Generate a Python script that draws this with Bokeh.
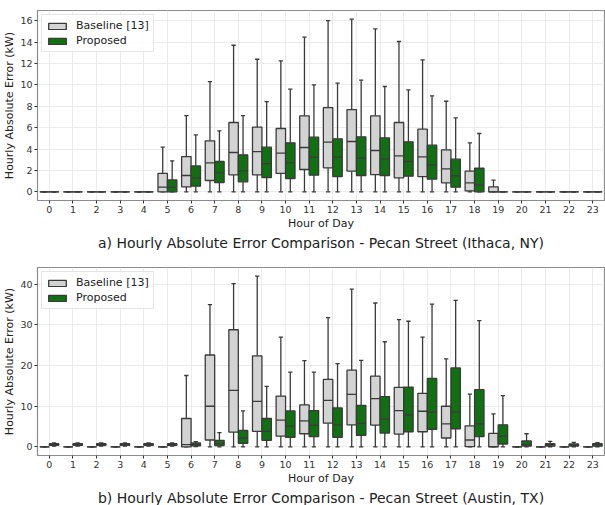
import numpy as np
from bokeh.plotting import figure
from bokeh.layouts import column
from bokeh.models import Range1d, FixedTicker, Title
from bokeh.embed import file_html
from bokeh.resources import INLINE

hours = list(range(24))
series_names = ["Baseline [13]", "Proposed"]

# Panel a) Ithaca, NY
ith_base_lo = [0] * 24
ith_base_q1 = [0, 0, 0, 0, 0, 0, 0.47, 1.06, 1.59, 1.59, 1.72, 2.09, 2.25, 1.93, 1.62, 1.31, 1.43, 0.84, 0.09, 0, 0, 0, 0, 0]
ith_base_med = [0, 0, 0, 0, 0, 0.45, 1.53, 2.71, 3.68, 3.77, 3.62, 4.15, 4.65, 4.71, 3.87, 3.37, 3.28, 2.15, 0.84, 0, 0, 0, 0, 0]
ith_base_q3 = [0, 0, 0, 0, 0, 1.72, 3.30, 4.77, 6.49, 6.05, 5.93, 7.11, 7.89, 7.70, 7.11, 6.49, 5.86, 3.93, 1.93, 0.47, 0, 0, 0, 0]
ith_base_hi = [0, 0, 0, 0, 0, 4.18, 7.14, 10.32, 13.72, 12.41, 12.26, 14.47, 16.03, 16.16, 15.25, 14.07, 12.35, 8.48, 4.59, 1.09, 0, 0, 0, 0]

ith_prop_lo = [0] * 24
ith_prop_q1 = [0, 0, 0, 0, 0, 0, 0.53, 0.87, 0.94, 1.34, 1.25, 1.56, 1.43, 1.53, 1.53, 1.47, 1.19, 0.44, 0, 0, 0, 0, 0, 0]
ith_prop_med = [0, 0, 0, 0, 0, 0.42, 1.31, 1.78, 1.97, 2.65, 2.71, 3.24, 3.24, 3.15, 3.09, 2.84, 2.53, 1.50, 0.66, 0, 0, 0, 0, 0]
ith_prop_q3 = [0, 0, 0, 0, 0, 1.12, 2.43, 2.84, 3.46, 4.18, 4.59, 5.12, 4.96, 5.15, 5.05, 4.68, 4.37, 3.06, 2.21, 0, 0, 0, 0, 0]
ith_prop_hi = [0, 0, 0, 0, 0, 2.90, 5.33, 5.71, 7.14, 8.45, 9.61, 10.01, 10.17, 10.45, 9.86, 9.54, 8.98, 6.92, 5.46, 0, 0, 0, 0, 0]

# Panel b) Austin, TX
aus_base_lo = [0] * 24
aus_base_q1 = [0, 0, 0, 0, 0, 0, 0, 1.71, 3.66, 3.82, 2.68, 3.25, 5.85, 5.45, 5.37, 3.17, 3.74, 2.2, 0.08, 0, 0, 0, 0, 0]
aus_base_med = [0, 0, 0, 0, 0, 0, 0.57, 10.0, 13.9, 11.2, 6.59, 6.42, 11.46, 12.93, 11.87, 8.94, 8.78, 5.69, 1.71, 0.08, 0, 0, 0, 0]
aus_base_q3 = [0, 0, 0, 0, 0, 0, 6.99, 22.6, 28.8, 22.4, 12.5, 10.33, 16.59, 18.86, 17.4, 14.63, 13.17, 10.0, 5.2, 3.33, 0, 0, 0, 0]
aus_base_hi = [0, 0, 0, 0, 0, 0, 17.56, 34.96, 40.16, 42.0, 27.0, 21.2, 31.79, 38.78, 35.37, 31.3, 27.0, 21.63, 13.0, 8.13, 0, 0, 0, 0]

aus_prop_lo = [0.2, 0.2, 0.2, 0.2, 0.2, 0.2, 0.1, 0, 0, 0, 0, 0, 0, 0, 0, 0, 0, 0, 0, 0, 0, 0.05, 0.05, 0.05]
aus_prop_q1 = [0.4, 0.4, 0.4, 0.4, 0.4, 0.4, 0.3, 0.33, 0.89, 1.63, 2.36, 2.52, 2.36, 2.85, 3.41, 3.74, 4.31, 4.47, 2.52, 0.73, 0.24, 0.24, 0.24, 0.24]
aus_prop_med = [0.6, 0.6, 0.6, 0.6, 0.6, 0.6, 0.6, 0.81, 2.2, 3.82, 5.12, 5.28, 5.45, 5.77, 6.83, 7.89, 8.54, 8.54, 5.69, 2.68, 0.57, 0.57, 0.49, 0.57]
aus_prop_q3 = [0.8, 0.8, 0.8, 0.8, 0.8, 0.8, 1.0, 1.63, 4.07, 6.99, 8.86, 8.94, 9.59, 10.24, 12.36, 14.72, 16.83, 19.43, 14.07, 5.45, 1.46, 0.81, 0.73, 0.81]
aus_prop_hi = [1.0, 1.0, 1.0, 1.0, 1.0, 1.0, 1.3, 3.5, 8.86, 14.88, 18.37, 18.37, 20.49, 21.3, 25.85, 30.89, 35.12, 36.0, 31.06, 12.6, 3.25, 1.38, 1.14, 1.06]

y_ticks_a = [0, 2, 4, 6, 8, 10, 12, 14, 16]
y_ticks_b = [0, 10, 20, 30, 40]

captions = ["a) Hourly Absolute Error Comparison - Pecan Street (Ithaca, NY)",
            "b) Hourly Absolute Error Comparison - Pecan Street (Austin, TX)"]

FILLS = ["#d3d3d3", "#117011"]
EDGE = "#3a3a3a"
FONT = "DejaVu Sans"
BOX_W = 0.4
CAP_W = 0.18


def draw_box(p, hrs, offset, lo, q1, med, q3, hi, fill, label):
    x = np.array(hrs, dtype=float) + offset
    lo, q1, med, q3, hi = (np.array(a, dtype=float) for a in (lo, q1, med, q3, hi))
    p.segment(x0=x, y0=q3, x1=x, y1=hi, line_color=EDGE, line_width=1.3)
    p.segment(x0=x, y0=q1, x1=x, y1=lo, line_color=EDGE, line_width=1.3)
    p.segment(x0=x - CAP_W / 2, y0=hi, x1=x + CAP_W / 2, y1=hi, line_color=EDGE, line_width=1.3)
    p.segment(x0=x - CAP_W / 2, y0=lo, x1=x + CAP_W / 2, y1=lo, line_color=EDGE, line_width=1.3)
    p.vbar(x=x, width=BOX_W, bottom=q1, top=q3, fill_color=fill, line_color=EDGE,
           line_width=1.3, legend_label=label)
    p.segment(x0=x - BOX_W / 2, y0=med, x1=x + BOX_W / 2, y1=med, line_color=EDGE, line_width=1.3)


def make_panel(base, prop, yr, yticks, caption, height, top_border):
    p = figure(width=605, height=height, output_backend="svg", toolbar_location=None,
               x_range=Range1d(-0.5, 23.5), y_range=Range1d(*yr),
               min_border_left=37, min_border_right=1, min_border_top=top_border,
               min_border_bottom=0)
    draw_box(p, hours, -0.2, *base, FILLS[0], series_names[0])
    draw_box(p, hours, 0.2, *prop, FILLS[1], series_names[1])

    p.xaxis.ticker = FixedTicker(ticks=hours)
    p.yaxis.ticker = FixedTicker(ticks=yticks)
    p.xaxis.axis_label = "Hour of Day"
    p.yaxis.axis_label = "Hourly Absolute Error (kW)"
    for ax in (p.xaxis, p.yaxis):
        ax.axis_label_text_font = FONT
        ax.axis_label_text_font_style = "normal"
        ax.axis_label_text_font_size = "11px"
        ax.axis_label_text_color = "#222222"
        ax.major_label_text_font = FONT
        ax.major_label_text_font_size = "9.5px"
        ax.major_label_text_color = "#333333"
        ax.axis_line_color = None
        ax.major_tick_line_color = "#333333"
        ax.major_tick_in = 0
        ax.major_tick_out = 3
        ax.minor_tick_line_color = None
        ax.major_label_standoff = 2
        ax.axis_label_standoff = 1
    p.xgrid.ticker = FixedTicker(ticks=hours)
    p.ygrid.ticker = FixedTicker(ticks=yticks)
    p.grid.grid_line_color = "#ebebeb"
    p.grid.grid_line_width = 1
    p.outline_line_color = "#8c8c8c"
    p.outline_line_width = 1.2

    p.legend.location = "top_left"
    p.legend.label_text_font = FONT
    p.legend.label_text_font_size = "11px"
    p.legend.label_text_color = "#222222"
    p.legend.glyph_width = 22
    p.legend.glyph_height = 8
    p.legend.label_height = 13
    p.legend.label_standoff = 8
    p.legend.spacing = 2
    p.legend.padding = 4
    p.legend.margin = 4
    p.legend.border_line_color = "#cccccc"
    p.legend.background_fill_alpha = 0.9

    p.add_layout(Title(text=caption, align="center", text_font=FONT, text_font_size="14px",
                       text_font_style="normal", text_color="#222222", standoff=0,
                       offset=-8), "below")
    return p


p1 = make_panel((ith_base_lo, ith_base_q1, ith_base_med, ith_base_q3, ith_base_hi),
                (ith_prop_lo, ith_prop_q1, ith_prop_med, ith_prop_q3, ith_prop_hi),
                (-0.81, 16.97), y_ticks_a, captions[0], 250, 10)
p2 = make_panel((aus_base_lo, aus_base_q1, aus_base_med, aus_base_q3, aus_base_hi),
                (aus_prop_lo, aus_prop_q1, aus_prop_med, aus_prop_q3, aus_prop_hi),
                (-2.1, 44.1), y_ticks_b, captions[1], 255, 17)

layout = column(p1, p2, spacing=0)
open("out.html", "w").write(file_html(layout, INLINE))
